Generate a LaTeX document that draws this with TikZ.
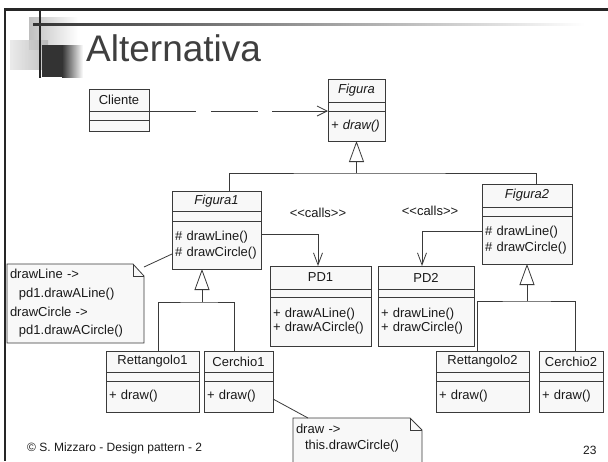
\documentclass[tikz,border=0pt]{standalone}
\usepackage{fontspec}
\setmainfont{Liberation Sans}
\usepackage{xcolor}
\usetikzlibrary{arrows.meta, positioning, backgrounds}
\definecolor{umlline}{HTML}{3A3A3A}
\definecolor{umlfill}{HTML}{F8F8F8}
\definecolor{titlegray}{HTML}{3F3F3F}
\definecolor{inkgray}{HTML}{1A1A1A}

\begin{document}
\begin{tikzpicture}[
  x=1pt, y=-1pt,
  clsname/.style={draw=umlline, fill=umlfill, line width=0.8pt, anchor=north west, inner sep=0pt, outer sep=0pt, text=inkgray, font=\fontsize{13}{15}\selectfont},
  clspart/.style={draw=umlline, fill=umlfill, line width=0.8pt, inner sep=0pt, outer sep=0pt},
  clsops/.style={clspart, inner xsep=3pt, align=left, text=inkgray, font=\fontsize{13}{16}\selectfont},
  note/.style={anchor=north west, inner xsep=3pt, inner ysep=0pt, outer sep=0pt, align=left, text=inkgray},
  notebox/.style={draw=umlline, fill=umlfill, line width=0.8pt},
  conn/.style={draw=umlline, line width=0.8pt},
  inherit/.style={conn, -{Triangle[open, length=21pt, width=15pt]}},
  depend/.style={conn, dash pattern=on 47pt off 15pt on 47pt off 14pt on 80pt, -{Straight Barb[length=10pt, width=10pt]}},
  calls/.style={conn, -{Straight Barb[length=12pt, width=9pt]}},
  stereo/.style={inner sep=0pt, text=inkgray, font=\fontsize{13}{15}\selectfont}
]
  \useasboundingbox (0,0) rectangle (608,461);

  % slide template
  \shade[left color=black!25, right color=white] (29,17) rectangle (78,49);
  \shade[left color=black!10, right color=black!30, opacity=0.8] (10,40) rectangle (48,69);
  \fill[black!80] (42,45) rectangle (62,77);
  \shade[left color=black!80, right color=white] (62,45) rectangle (83,77);
  \fill[black!85] (4,8) rectangle (608,11);
  \fill[black!85] (4,8) rectangle (6,461);
  \fill[black!85] (39,8) rectangle (41,78);
  \shade[left color=black!80, right color=white] (33,23) rectangle (585,25);
  \node[anchor=base west, inner sep=0pt, text=titlegray, font=\fontsize{37}{40}\selectfont] (title) at (86,61) {Alternativa};
  \node[anchor=base west, inner sep=0pt, text=inkgray, font=\fontsize{12}{14}\selectfont] (footer) at (27,451) {© S. Mizzaro - Design pattern - 2};
  \node[anchor=base west, inner sep=0pt, text=inkgray, font=\fontsize{12}{14}\selectfont] (pageno) at (583,454) {23};

  % classes
  \node[clsname, minimum width=60pt, minimum height=22pt] (clin) at (89,89) {Cliente};
  \node[clspart, minimum width=60pt, minimum height=9pt, below=0pt of clin] (clia) {};
  \node[clspart, minimum width=60pt, minimum height=11pt, below=0pt of clia] (clio) {};

  \node[clsname, minimum width=57pt, minimum height=23pt, font=\fontsize{13}{15}\selectfont\itshape] (fign) at (328,79) {Figura};
  \node[clspart, minimum width=57pt, minimum height=9pt, below=0pt of fign] (figa) {};
  \node[clsops, text width=51pt, minimum height=30pt, below=0pt of figa, font=\fontsize{13}{16}\selectfont\itshape] (figo) {+ draw()};

  \node[clsname, minimum width=89pt, minimum height=20pt, font=\fontsize{13}{15}\selectfont\itshape] (fig1n) at (172,191) {Figura1};
  \node[clspart, minimum width=89pt, minimum height=10pt, below=0pt of fig1n] (fig1a) {};
  \node[clsops, text width=83pt, minimum height=48pt, below=0pt of fig1a] (fig1o) {\# drawLine()\\\# drawCircle()};

  \node[clsname, minimum width=90pt, minimum height=23pt, font=\fontsize{13}{15}\selectfont\itshape] (fig2n) at (482,184) {Figura2};
  \node[clspart, minimum width=90pt, minimum height=9pt, below=0pt of fig2n] (fig2a) {};
  \node[clsops, text width=84pt, minimum height=48pt, below=0pt of fig2a] (fig2o) {\# drawLine()\\\# drawCircle()};

  \node[clsname, minimum width=101pt, minimum height=23pt] (pd1n) at (270,266) {PD1};
  \node[clspart, minimum width=101pt, minimum height=8pt, below=0pt of pd1n] (pd1a) {};
  \node[clsops, text width=95pt, minimum height=49pt, below=0pt of pd1a, font=\fontsize{13}{14}\selectfont] (pd1o) {+ drawALine()\\+ drawACircle()};

  \node[clsname, minimum width=96pt, minimum height=23pt] (pd2n) at (378,266) {PD2};
  \node[clspart, minimum width=96pt, minimum height=8pt, below=0pt of pd2n] (pd2a) {};
  \node[clsops, text width=90pt, minimum height=49pt, below=0pt of pd2a, font=\fontsize{13}{14}\selectfont] (pd2o) {+ drawLine()\\+ drawCircle()};

  \node[clsname, minimum width=93pt, minimum height=21pt] (ret1n) at (106,351) {Rettangolo1};
  \node[clspart, minimum width=93pt, minimum height=9pt, below=0pt of ret1n] (ret1a) {};
  \node[clsops, text width=87pt, minimum height=31pt, below=0pt of ret1a] (ret1o) {+ draw()};

  \node[clsname, minimum width=69pt, minimum height=21pt] (cer1n) at (204,351) {Cerchio1};
  \node[clspart, minimum width=69pt, minimum height=9pt, below=0pt of cer1n] (cer1a) {};
  \node[clsops, text width=63pt, minimum height=31pt, below=0pt of cer1a] (cer1o) {+ draw()};

  \node[clsname, minimum width=93pt, minimum height=21pt] (ret2n) at (436,351) {Rettangolo2};
  \node[clspart, minimum width=93pt, minimum height=9pt, below=0pt of ret2n] (ret2a) {};
  \node[clsops, text width=87pt, minimum height=31pt, below=0pt of ret2a] (ret2o) {+ draw()};

  \node[clsname, minimum width=64pt, minimum height=21pt] (cer2n) at (539,351) {Cerchio2};
  \node[clspart, minimum width=64pt, minimum height=9pt, below=0pt of cer2n] (cer2a) {};
  \node[clsops, text width=58pt, minimum height=31pt, below=0pt of cer2a] (cer2o) {+ draw()};

  % notes
  \node[note, text width=131pt, minimum height=79pt, font=\fontsize{13}{18.7}\selectfont] (note1) at (7,264)
    {drawLine ->\\\hspace*{9pt}pd1.drawALine()\\drawCircle ->\\\hspace*{9pt}pd1.drawACircle()};
  \node[note, text width=123pt, minimum height=40pt, font=\fontsize{13}{16}\selectfont] (note2) at (293,418)
    {draw ->\\\hspace*{9pt}this.drawCircle()};
  \begin{scope}[on background layer]
    \draw[notebox] (note1.north west) -- ([xshift=-11pt]note1.north east) -- ([yshift=-12pt]note1.north east)
      -- (note1.south east) -- (note1.south west) -- cycle;
    \draw[notebox] (note2.north west) -- ([xshift=-12pt]note2.north east) -- ([yshift=-12pt]note2.north east)
      -- ([yshift=-10pt]note2.south east) -- ([yshift=-10pt]note2.south west) -- cycle;
  \end{scope}
  \draw[conn] ([xshift=-11pt]note1.north east) |- ([yshift=-12pt]note1.north east);
  \draw[conn] ([xshift=-12pt]note2.north east) |- ([yshift=-12pt]note2.north east);

  % stereotype labels
  \node[stereo] (calls1) at (318,213) {<{}<calls>{}>};
  \node[stereo] (calls2) at (430,211) {<{}<calls>{}>};

  % connectors
  \draw[depend] (clin.south east) -- (figa.south west);

  \coordinate (busA) at ([yshift=-32pt]figo.south);
  \draw[inherit] (busA) -- (figo.south);
  \draw[conn] ([xshift=57pt]fig1n.north west) |- (busA) -| ([xshift=54pt]fig2n.north west);

  \coordinate (busB) at ([xshift=30pt, yshift=-33pt]fig1o.south west);
  \draw[inherit] (busB) -- ([xshift=30pt]fig1o.south west);
  \draw[conn] ([xshift=52pt]ret1n.north west) |- (busB) -| ([xshift=30pt]cer1n.north west);

  \coordinate (busC) at ([yshift=-37pt]fig2o.south);
  \draw[inherit] (busC) -- (fig2o.south);
  \draw[conn] ([xshift=41pt]ret2n.north west) |- (busC) -| ([xshift=36pt]cer2n.north west);

  \draw[calls] ([yshift=-13pt]fig1o.north east) -| ([xshift=48pt]pd1n.north west);
  \draw[calls] ([yshift=-15pt]fig2o.north west) -| ([xshift=44pt]pd2n.north west);

  \draw[conn] ([yshift=-3pt]note1.north east) -- ([yshift=-33pt]fig1o.north west);
  \draw[conn] ([yshift=-18pt]cer1o.north east) -- ([xshift=15pt]note2.north west);
\end{tikzpicture}
\end{document}
